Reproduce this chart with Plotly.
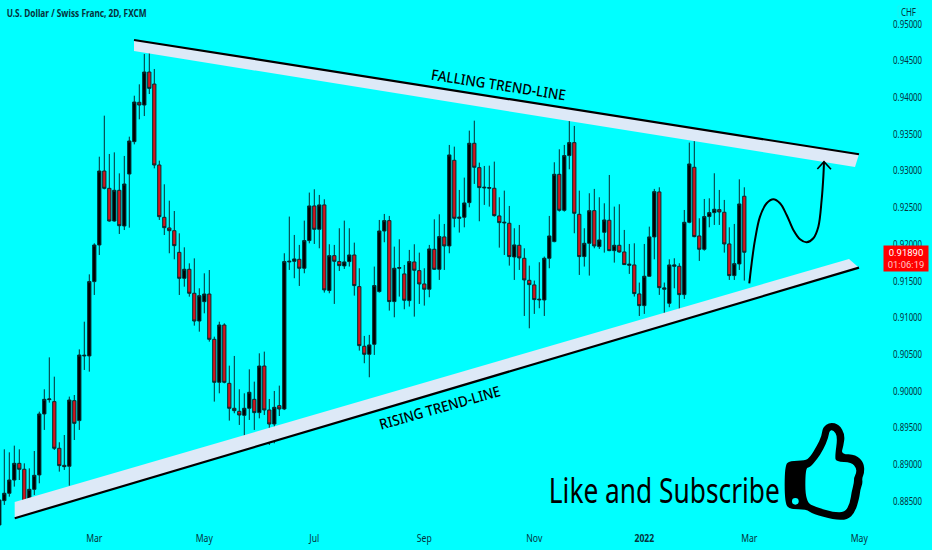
import plotly.graph_objects as go

# --- data ---
open_ = [0.88174,0.88506,0.88606,0.88787,0.89014,0.88933,0.88492,0.88660,0.88856,0.89687,
0.89882,0.89855,0.89219,0.88987,0.88974,0.89868,0.89596,0.90477,0.90477,0.91490,
0.91989,0.92997,0.92761,0.92316,0.92734,0.92248,0.92956,0.93397,0.93933,0.93896,
0.94346,0.94182,0.93079,0.92366,0.92221,0.92184,0.91889,0.91535,0.91658,0.91331,
0.90953,0.91217,0.91321,0.90704,0.90118,0.90899,0.90104,0.89764,0.89723,0.89668,
0.89764,0.89886,0.89705,0.90340,0.89741,0.89550,0.89800,0.89755,0.91758,0.91767,
0.91794,0.91672,0.92049,0.92521,0.92203,0.92535,0.91368,0.91844,0.91763,0.91704,
0.91763,0.91853,0.91422,0.90609,0.90500,0.90636,0.91354,0.92180,0.92321,0.91218,
0.91672,0.91595,0.91231,0.91758,0.91640,0.91458,0.91386,0.91931,0.91658,0.92099,
0.91976,0.93143,0.92353,0.92367,0.92566,0.93375,0.93043,0.92766,0.92762,0.92762,
0.92385,0.92289,0.92285,0.91826,0.91985,0.91808,0.91508,0.91445,0.91240,0.91240,
0.91808,0.92035,0.92952,0.92462,0.93207,0.93384,0.92407,0.91831,0.92012,0.92457,
0.91967,0.92162,0.92326,0.91912,0.91985,0.91894,0.91713,0.91717,0.91322,0.91163,
0.91563,0.92099,0.92712,0.91386,0.91195,0.91699,0.91699,0.91313,0.92298,0.93048,
0.92112,0.91931,0.92376,0.92430,0.92471,0.92435,0.92003,0.91572,0.91731,0.92653]
high = [0.88606,0.89205,0.89164,0.89255,0.89205,0.89014,0.88946,0.89182,0.89718,0.90023,
0.90458,0.90195,0.89301,0.89400,0.89923,0.89945,0.90567,0.90944,0.91589,0.92012,
0.93192,0.93751,0.93229,0.93251,0.92965,0.93202,0.93465,0.94023,0.94178,0.94591,
0.94727,0.94387,0.93138,0.92816,0.92593,0.92452,0.92148,0.91957,0.91739,0.91807,
0.91399,0.91603,0.91648,0.90740,0.90944,0.90922,0.90345,0.90477,0.90023,0.89968,
0.90295,0.90127,0.90513,0.90536,0.89891,0.90000,0.90073,0.91876,0.92376,0.92126,
0.91990,0.92321,0.92703,0.92748,0.92671,0.92612,0.91999,0.91990,0.92217,0.92321,
0.92217,0.92021,0.91672,0.90750,0.90764,0.91695,0.92330,0.92412,0.92385,0.91967,
0.92067,0.91717,0.91922,0.91999,0.91885,0.91672,0.91990,0.92339,0.92407,0.92276,
0.93352,0.93329,0.92739,0.92907,0.93547,0.93683,0.93111,0.93066,0.93070,0.93125,
0.92639,0.92730,0.92521,0.92217,0.92262,0.91944,0.91708,0.91504,0.91754,0.91831,
0.92385,0.93116,0.93293,0.93352,0.93729,0.93611,0.92730,0.92217,0.92694,0.92753,
0.92639,0.92557,0.92943,0.92512,0.92544,0.92194,0.92003,0.92012,0.91477,0.92003,
0.92239,0.92753,0.92775,0.91477,0.91794,0.91808,0.91740,0.92466,0.93384,0.93429,
0.92353,0.92616,0.92625,0.92966,0.92739,0.92603,0.92230,0.92276,0.92884,0.92775]
low = [0.88152,0.88447,0.88560,0.88697,0.88787,0.88379,0.88470,0.88583,0.88742,0.89469,
0.89841,0.89196,0.88901,0.88924,0.88710,0.89332,0.89469,0.90286,0.90263,0.91308,
0.91853,0.92747,0.92307,0.92307,0.92139,0.92193,0.92225,0.93360,0.93701,0.93746,
0.94046,0.93033,0.92330,0.92125,0.91876,0.91794,0.91308,0.91421,0.91285,0.90890,
0.90808,0.91058,0.90672,0.89855,0.89968,0.90104,0.89596,0.89696,0.89537,0.89301,
0.89605,0.89469,0.89627,0.89673,0.89264,0.89287,0.89659,0.89740,0.91649,0.91536,
0.91431,0.91604,0.92012,0.92003,0.91944,0.91340,0.91331,0.91186,0.91635,0.91663,
0.91695,0.91299,0.90550,0.90378,0.90187,0.90491,0.91340,0.92026,0.91095,0.91004,
0.91286,0.91113,0.91150,0.91013,0.91186,0.91163,0.91277,0.91649,0.91513,0.91649,
0.91876,0.92230,0.92158,0.92230,0.92503,0.92821,0.92312,0.92535,0.92512,0.92376,
0.91953,0.91853,0.91708,0.91513,0.91649,0.91022,0.90854,0.91050,0.91127,0.91022,
0.91672,0.92026,0.92444,0.92444,0.93020,0.92149,0.91581,0.91695,0.91572,0.91944,
0.91935,0.91885,0.91905,0.91749,0.91885,0.91717,0.91595,0.91286,0.91022,0.91050,
0.91558,0.91794,0.91309,0.90913,0.91141,0.91399,0.91081,0.91254,0.92285,0.92094,
0.91772,0.91912,0.92230,0.92262,0.92262,0.91885,0.91513,0.91513,0.91649,0.91504]
close = [0.88515,0.88606,0.88787,0.89014,0.88933,0.88492,0.88660,0.88851,0.89687,0.89886,
0.89891,0.89219,0.88983,0.88969,0.89877,0.89559,0.90490,0.90486,0.91490,0.91989,
0.92997,0.92761,0.92316,0.92734,0.92252,0.92820,0.93406,0.93937,0.93896,0.94346,
0.94123,0.93079,0.92375,0.92225,0.92184,0.91980,0.91535,0.91658,0.91331,0.90953,
0.91299,0.91321,0.90704,0.90118,0.90899,0.90118,0.89764,0.89732,0.89673,0.89764,
0.89982,0.89705,0.90340,0.89741,0.89550,0.89777,0.89755,0.91763,0.91767,0.91799,
0.91672,0.92049,0.92521,0.92203,0.92535,0.91377,0.91844,0.91767,0.91708,0.91758,
0.91853,0.91436,0.90618,0.90500,0.90627,0.91436,0.92180,0.92321,0.91218,0.91672,
0.91681,0.91236,0.91763,0.91645,0.91458,0.91386,0.91935,0.91658,0.92103,0.91976,
0.93216,0.92353,0.92367,0.92562,0.93375,0.93048,0.92771,0.92775,0.92771,0.92389,
0.92294,0.92298,0.91831,0.91990,0.91813,0.91513,0.91449,0.91245,0.91249,0.91808,
0.92112,0.92952,0.92462,0.93207,0.93384,0.92421,0.91831,0.92012,0.92457,0.91976,
0.92058,0.92330,0.91912,0.91985,0.91894,0.91722,0.91726,0.91327,0.91163,0.91563,
0.92099,0.92716,0.91408,0.91404,0.91717,0.91717,0.91313,0.92298,0.93093,0.92103,
0.91931,0.92376,0.92430,0.92476,0.92439,0.92003,0.91572,0.91735,0.92548,0.91890]

month_ticks = [19, 41, 63, 85, 107, 129, 150, 172]
month_labels = ["Mar", "May", "Jul", "Sep", "Nov", "<b>2022</b>", "Mar", "May"]
price_ticks = [0.885, 0.89, 0.895, 0.90, 0.905, 0.91, 0.915, 0.92, 0.925, 0.93, 0.935, 0.94, 0.945, 0.95]

falling_line_x = [26.94, 171.94]
falling_line_y = [0.94782, 0.93225]
falling_band_x = [26.94, 171.94, 171.14, 26.94]
falling_band_y = [0.94782, 0.93225, 0.93052, 0.94632]
rising_line_x = [3.08, 171.94]
rising_line_y = [0.88266, 0.91680]
rising_band_x = [3.08, 171.94, 169.94, 3.08]
rising_band_y = [0.88266, 0.91680, 0.91798, 0.88488]
path_x = [150.0,150.47,151.14,152.14,153.47,154.81,156.14,157.47,158.81,160.14,161.47,162.81,163.81,164.47,164.81,164.94]
path_y = [0.91467,0.91740,0.92058,0.92376,0.92557,0.92612,0.92557,0.92398,0.92194,0.92067,0.92026,0.92081,0.92239,0.92603,0.92921,0.93125]
head_x = [163.61, 164.94, 166.34]
head_y = [0.93025, 0.93125, 0.93020]

BG = "#00FFFF"
INK = "#06323c"
TEXTFONT = "Noto Sans, sans-serif"
W, H, MR, MB = 932, 550, 50, 22
PW, PH = W - MR, H - MB

fig = go.Figure()
for bx, by in ((falling_band_x, falling_band_y), (rising_band_x, rising_band_y)):
    fig.add_trace(go.Scatter(x=bx, y=by, mode="lines", fill="toself", fillcolor="#DDE9F7",
                             line=dict(width=0), hoverinfo="skip", showlegend=False))

fig.add_trace(go.Candlestick(
    x=list(range(len(open_))), open=open_, high=high, low=low, close=close,
    increasing=dict(fillcolor="#000000", line=dict(color="#052c30", width=1)),
    decreasing=dict(fillcolor="#D8141C", line=dict(color="#052c30", width=1)),
    whiskerwidth=0, showlegend=False))

for lx, ly in ((falling_line_x, falling_line_y), (rising_line_x, rising_line_y)):
    fig.add_trace(go.Scatter(x=lx, y=ly, mode="lines", line=dict(color="#000000", width=2.2),
                             hoverinfo="skip", showlegend=False))
fig.add_trace(go.Scatter(x=path_x, y=path_y, mode="lines",
                         line=dict(color="#000000", width=2, shape="spline"),
                         hoverinfo="skip", showlegend=False))
fig.add_trace(go.Scatter(x=head_x, y=head_y, mode="lines", line=dict(color="#000000", width=1.6),
                         hoverinfo="skip", showlegend=False))

# thumbs-up icon, a rounded outline in paper fractions
def to_paper(p):
    return (780 + p[0] / 3) / PW, 1 - (418 + p[1] / 3) / PH

def icon_path(points):
    pts = [to_paper(p) for p in points]
    n = len(pts)
    mid = lambda a, b: ((a[0] + b[0]) / 2, (a[1] + b[1]) / 2)
    start = mid(pts[-1], pts[0])
    d = f"M{start[0]:.5f},{start[1]:.5f}"
    for i in range(n):
        m = mid(pts[i], pts[(i + 1) % n])
        d += f" Q{pts[i][0]:.5f},{pts[i][1]:.5f} {m[0]:.5f},{m[1]:.5f}"
    return d + " Z"

thumb_outer = [(14,142),(30,128),(75,128),(90,118),(110,85),(125,55),(128,28),(150,12),(178,20),(195,50),
               (190,85),(183,108),(228,110),(252,135),(253,165),(246,180),(248,195),(241,215),(238,240),
               (225,283),(202,306),(160,305),(100,288),(78,274),(32,274),(14,258)]
thumb_inner = [(76,150),(90,148),(110,125),(130,95),(145,60),(148,38),(160,36),(173,55),(165,115),(168,131),
               (215,133),(229,150),(229,165),(222,178),(222,195),(215,220),(210,255),(195,283),(160,283),
               (110,268),(76,252)]
dot_a, dot_b = to_paper((36, 240)), to_paper((56, 260))
shapes = [
    dict(type="path", xref="paper", yref="paper", path=icon_path(thumb_outer), fillcolor="#000000", line=dict(width=0)),
    dict(type="path", xref="paper", yref="paper", path=icon_path(thumb_inner), fillcolor=BG, line=dict(width=0)),
    dict(type="circle", xref="paper", yref="paper", x0=dot_a[0], x1=dot_b[0], y0=dot_b[1], y1=dot_a[1],
         fillcolor=BG, line=dict(width=0)),
    dict(type="rect", xref="paper", yref="paper", x0=898 / PW, x1=918 / PW, y0=1 - 6 / PH, y1=1 - 18 / PH,
         line=dict(color="#33e6e6", width=0.5), fillcolor="rgba(0,0,0,0)"),
]

annotations = [
    dict(text="<b>U.S. Dollar / Swiss Franc, 2D, FXCM</b>", xref="paper", yref="paper",
         x=76 / PW, y=1 - 13 / PH, xanchor="center", yanchor="middle", showarrow=False,
         font=dict(family=TEXTFONT, size=10.5, color=INK)),
    dict(text="CHF", xref="paper", yref="paper", x=908 / PW, y=1 - 12 / PH, xanchor="center",
         yanchor="middle", showarrow=False, font=dict(family=TEXTFONT, size=10, color=INK)),
    dict(text="FALLING TREND-LINE", x=99.74, y=0.94183, textangle=8.8, showarrow=False,
         font=dict(family=TEXTFONT, size=14.5, color="#000000", weight=500)),
    dict(text="RISING TREND-LINE", x=88.0, y=0.89786, textangle=-15.8, showarrow=False,
         font=dict(family=TEXTFONT, size=14.5, color="#000000", weight=500)),
    dict(text="Like and Subscribe", xref="paper", yref="paper", x=664.5 / PW, y=1 - 490 / PH,
         xanchor="center", yanchor="middle", showarrow=False,
         font=dict(family=TEXTFONT, size=34, color="#000000")),
    dict(text=f"{close[-1]:.5f}<br><span style='color:#ffc4c4'>01:06:19</span>",
         xref="paper", yref="y", x=906 / PW, y=close[-1], xanchor="center", yanchor="top", yshift=7,
         showarrow=False, bgcolor="#FF0000", width=44, height=25, borderpad=0,
         font=dict(family="Roboto, sans-serif", size=9.5, color="#FFFFFF")),
]

fig.update_layout(
    width=W, height=H, margin=dict(l=0, r=MR, t=0, b=MB),
    paper_bgcolor=BG, plot_bgcolor=BG, showlegend=False, hovermode=False,
    boxgap=0.35, boxgroupgap=0, shapes=shapes, annotations=annotations,
    xaxis=dict(range=[0.14, 176.54], rangeslider=dict(visible=False), showgrid=False, zeroline=False,
               showline=False, tickmode="array", tickvals=month_ticks, ticktext=month_labels,
               ticks="outside", ticklen=0, tickcolor="rgba(0,0,0,0)",
               tickfont=dict(family=TEXTFONT, size=10.5, color=INK)),
    yaxis=dict(range=[0.88133, 0.95327], side="right", showgrid=False, zeroline=False, showline=False,
               tickmode="array", tickvals=price_ticks, tickformat=".5f",
               ticks="outside", ticklen=8, tickcolor="rgba(0,0,0,0)",
               tickfont=dict(family=TEXTFONT, size=10.5, color=INK)),
)

# The reference's typeface is narrower than any installed one: condense the real text to its widths.
squeeze = """
document.body.style.margin='0';document.body.style.background='#00FFFF';
function fit(el,len){el.setAttribute('textLength',len);el.setAttribute('lengthAdjust','spacingAndGlyphs');}
function condense(){
  document.querySelectorAll('.ytick text').forEach(function(t){fit(t,29);});
  document.querySelectorAll('.xtick text').forEach(function(t){fit(t,t.getComputedTextLength()*0.82);});
  document.querySelectorAll('.annotation-text').forEach(function(t){
    var s=t.textContent;
    if(s.indexOf('Like')===0){fit(t,231);}
    else if(s.indexOf('U.S.')===0){fit(t,140);}
    else if(s.indexOf('FALLING')===0){fit(t,136);}
    else if(s.indexOf('RISING')===0){fit(t,125);}
    else if(s==='CHF'){fit(t,15);}
  });
}
condense();
"""
fig.write_html("out.html", config=dict(displayModeBar=False), post_script=squeeze)
